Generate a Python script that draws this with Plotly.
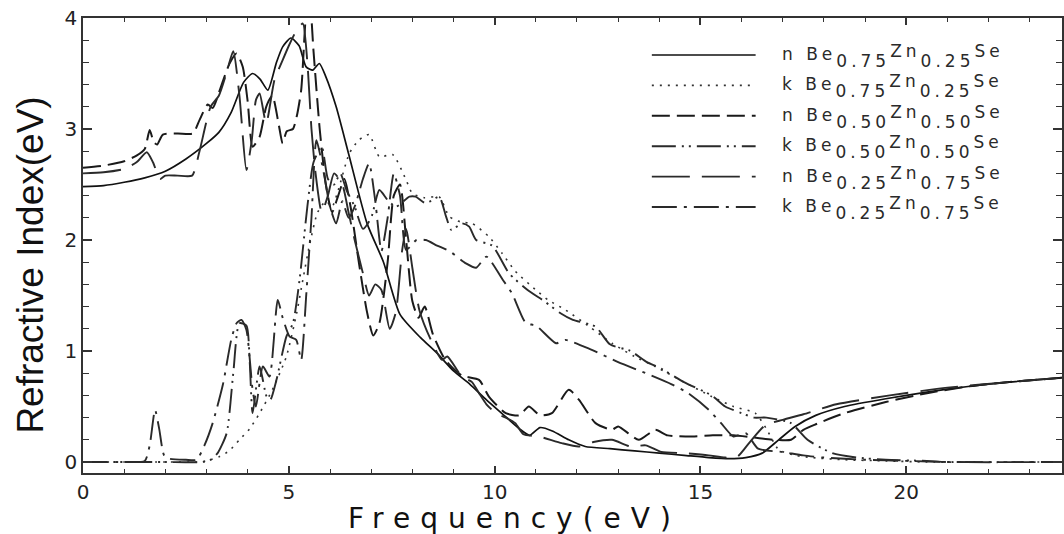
import plotly.graph_objects as go

# ---------------- data ----------------
x_n75 = [0, 0.5, 1.0, 1.5, 2.0, 2.5, 3.0, 3.3, 3.6, 3.9, 4.12, 4.3, 4.49, 4.7, 4.85, 5.05, 5.25, 5.42, 5.58, 5.74,
         5.9, 6.15, 6.45, 6.9, 7.3, 7.7, 8.2, 8.6, 9.0, 9.4, 9.8, 10.2, 10.6, 10.85, 11.1, 11.4, 11.8, 12.2, 12.8, 13.4,
         14.0, 14.6, 15.2, 15.7, 16.1, 16.5, 16.9, 17.3, 17.8, 18.5, 19.5, 20.5, 21.5, 22.5, 23.8]
y_n75 = [2.48, 2.49, 2.52, 2.56, 2.62, 2.73, 2.87, 2.97, 3.15, 3.42, 3.5, 3.45, 3.35, 3.6, 3.74, 3.82, 3.75, 3.56, 3.53, 3.59,
         3.47, 3.2, 2.78, 2.15, 1.8, 1.33, 1.12, 0.98, 0.82, 0.7, 0.56, 0.43, 0.3, 0.24, 0.31, 0.28, 0.2, 0.14, 0.12, 0.1,
         0.08, 0.06, 0.04, 0.03, 0.04, 0.08, 0.2, 0.32, 0.42, 0.5, 0.57, 0.63, 0.68, 0.72, 0.76]

x_k75 = [0, 1.0, 2.0, 2.8, 3.0, 3.32, 3.55, 3.8, 4.05, 4.29, 4.6, 4.94, 5.19, 5.34, 5.5, 5.7, 5.9, 6.05, 6.2, 6.47,
         6.7, 6.95, 7.2, 7.52, 7.85, 8.0, 8.3, 8.65, 8.9, 9.2, 9.45, 9.86, 10.18, 10.5, 11.0, 11.3, 11.72, 12.3, 12.85, 13.4,
         13.9, 14.6, 15.27, 15.8, 16.33, 16.6, 16.9, 17.3, 17.7, 18.5, 19.5, 20.5, 23.8]
y_k75 = [0, 0, 0, 0, 0.01, 0.05, 0.1, 0.2, 0.3, 0.44, 0.65, 0.95, 1.34, 1.64, 1.95, 2.25, 2.35, 2.3, 2.45, 2.78,
         2.9, 2.95, 2.75, 2.77, 2.54, 2.42, 2.38, 2.39, 2.21, 2.16, 2.15, 2.03, 1.88, 1.72, 1.55, 1.46, 1.37, 1.22, 1.07, 0.95,
         0.86, 0.72, 0.59, 0.5, 0.44, 0.3, 0.11, 0.06, 0.04, 0.02, 0.01, 0, 0]

x_n50 = [0, 0.5, 1.0, 1.3, 1.5, 1.62, 1.72, 1.8, 1.94, 2.3, 2.67, 2.83, 3.03, 3.15, 3.35, 3.56, 3.73, 3.88, 4.0, 4.12,
         4.29, 4.45, 4.6, 4.75, 4.85, 4.95, 5.1, 5.19, 5.3, 5.42, 5.5, 5.6, 5.75, 5.9, 6.05, 6.2, 6.35, 6.5, 6.7, 6.9,
         7.05, 7.2, 7.4, 7.55, 7.7, 7.85, 8.0, 8.15, 8.3, 8.5, 8.8, 9.2, 9.62, 9.86, 10.27, 10.6, 10.83, 11.1, 11.39, 11.8,
         12.05, 12.45, 12.85, 13.0, 13.5, 13.9, 14.2, 14.8, 15.3, 15.8, 16.3, 16.8, 17.2, 17.5, 17.8, 18.5, 19.5, 20.5, 21.5,
         22.5, 23.8]
y_n50 = [2.65, 2.67, 2.71, 2.76, 2.82, 2.99, 2.88, 2.86, 2.95, 2.96, 2.96, 3.08, 3.22, 3.19, 3.38, 3.59, 3.68, 3.56, 3.25, 2.84,
         2.93, 3.2, 3.3, 3.05, 2.87, 2.98, 3.0, 3.11, 3.35, 4.05, 4.2, 3.7, 3.0, 2.5, 2.25, 2.4, 2.55, 2.3, 1.8, 1.35,
         1.14, 1.25, 1.8, 2.4, 2.5, 2.0, 1.45, 1.3, 1.4, 1.15, 0.92, 0.78, 0.74, 0.59, 0.44, 0.42, 0.5, 0.42, 0.44, 0.65,
         0.56, 0.35, 0.29, 0.32, 0.2, 0.29, 0.24, 0.23, 0.24, 0.24, 0.22, 0.2, 0.2, 0.29, 0.34, 0.44, 0.54, 0.62, 0.68,
         0.72, 0.76]

x_k50 = [0, 1.0, 2.0, 2.9, 3.1, 3.27, 3.49, 3.65, 3.8, 3.97, 4.05, 4.12, 4.29, 4.46, 4.55, 4.7, 4.94, 5.1, 5.26, 5.45,
         5.6, 5.8, 5.95, 6.1, 6.25, 6.4, 6.6, 6.8, 7.0, 7.2, 7.4, 7.6, 7.93, 8.08, 8.33, 8.65, 8.82, 8.95, 9.2, 9.38,
         9.55, 9.94, 10.35, 10.8, 11.2, 11.6, 11.9, 12.45, 12.8, 13.3, 13.7, 14.0, 14.6, 15.27, 15.6, 16.0, 16.3, 16.6, 17.2, 17.6,
         18.2, 18.8, 19.5, 20.5, 21.0, 23.8]
y_k50 = [0, 0, 0, 0, 0.02, 0.08, 0.26, 0.8, 1.25, 1.23, 0.9, 0.44, 0.86, 0.59, 0.56, 0.74, 1.13, 1.25, 1.64, 2.3,
         2.7, 2.84, 2.55, 2.5, 2.6, 2.45, 2.3, 2.1, 2.2, 2.45, 2.36, 2.3, 2.39, 2.39, 2.33, 2.39, 2.21, 2.09, 2.15, 2.12,
         2.0, 1.95, 1.7, 1.55, 1.45, 1.34, 1.28, 1.22, 1.06, 1.0, 0.9, 0.85, 0.72, 0.6, 0.5, 0.44, 0.4, 0.4, 0.35, 0.2,
         0.08, 0.04, 0.02, 0.01, 0, 0]

x_n25 = [0, 0.5, 1.0, 1.3, 1.55, 1.7, 1.87, 2.0, 2.3, 2.65, 2.83, 3.1, 3.3, 3.49, 3.65, 3.8, 3.97, 4.1, 4.2, 4.29,
         4.45, 4.65, 4.85, 5.0, 5.19, 5.34, 5.45, 5.55, 5.65, 5.8, 5.95, 6.1, 6.3, 6.45, 6.6, 6.8, 6.95, 7.1, 7.25, 7.45,
         7.6, 7.75, 7.85, 8.0, 8.17, 8.45, 8.72, 8.85, 9.2, 9.45, 9.62, 9.8, 10.03, 10.27, 10.5, 10.7, 11.07, 11.63, 12.04, 12.4,
         12.85, 13.3, 13.67, 14.05, 14.6, 15.2, 15.6, 15.9, 16.2, 16.57, 17.0, 17.5, 18.3, 19.6, 21.0, 22.5, 23.8]
y_n25 = [2.6, 2.61, 2.64, 2.7, 2.79, 2.7, 2.55, 2.58, 2.58, 2.58, 2.8, 3.2, 3.3, 3.51, 3.7, 3.3, 2.63, 2.9, 3.26, 3.32,
         3.05, 3.44, 3.62, 3.75, 3.89, 3.95, 3.6, 3.0, 2.6, 2.25, 2.4, 2.6, 2.5, 2.25, 2.0, 1.7, 1.5, 1.6, 1.55, 1.2,
         1.35, 1.9, 2.1, 1.75, 1.37, 1.1, 0.92, 0.95, 0.77, 0.72, 0.62, 0.52, 0.44, 0.4, 0.35, 0.25, 0.23, 0.17, 0.14, 0.18,
         0.2, 0.14, 0.15, 0.09, 0.08, 0.06, 0.04, 0.05, 0.18, 0.33, 0.38, 0.43, 0.52, 0.6, 0.67, 0.72, 0.76]

x_k25 = [0, 1.0, 1.5, 1.62, 1.75, 1.85, 1.97, 2.1, 2.5, 2.76, 2.95, 3.15, 3.4, 3.6, 3.73, 3.85, 3.97, 4.12, 4.2, 4.37,
         4.53, 4.73, 4.85, 5.02, 5.18, 5.3, 5.42, 5.55, 5.67, 5.85, 6.0, 6.15, 6.3, 6.45, 6.6, 6.8, 6.95, 7.1, 7.25, 7.4,
         7.55, 7.7, 7.85, 8.1, 8.33, 8.6, 8.9, 9.3, 9.55, 9.8, 10.2, 10.42, 10.76, 11.0, 11.49, 11.72, 12.36, 13.0, 13.67, 14.3,
         14.7, 15.2, 15.5, 15.8, 16.1, 16.4, 17.0, 17.5, 18.0, 19.0, 20.0, 21.0, 23.8]
y_k25 = [0, 0, 0.01, 0.15, 0.47, 0.3, 0.06, 0.03, 0.02, 0.02, 0.15, 0.35, 0.7, 1.1, 1.25, 1.28, 1.19, 0.65, 0.5, 0.86,
         0.77, 1.46, 1.3, 1.13, 1.1, 0.92, 1.49, 2.2, 2.9, 2.6, 2.3, 2.15, 2.35, 2.2, 2.3, 2.55, 2.69, 2.35, 1.9, 2.2,
         2.6, 2.4, 1.91, 2.0, 2.0, 1.95, 1.9, 1.79, 1.75, 1.85, 1.64, 1.52, 1.25, 1.23, 1.07, 1.1, 1.01, 0.9, 0.8, 0.7,
         0.62, 0.47, 0.35, 0.23, 0.26, 0.12, 0.09, 0.06, 0.04, 0.02, 0.01, 0, 0]

kinds = ["n", "k", "n", "k", "n", "k"]
be_frac = ["0.75", "0.75", "0.50", "0.50", "0.25", "0.25"]
zn_frac = ["0.25", "0.25", "0.50", "0.50", "0.75", "0.75"]

x_title = "Frequency(eV)"
y_title = "Refractive Index(eV)"

# ---------------- styles ----------------
series = [(x_n75, y_n75), (x_k75, y_k75), (x_n50, y_n50), (x_k50, y_k50), (x_n25, y_n25), (x_k25, y_k25)]
dashes = ["solid", "2px,6px", "18px,7px", "24px,6px,2px,5px,2px,6px", "38px,12px", "25px,7px,3px,7px"]
colors = ["#111111", "#333333", "#1a1a1a", "#2a2a2a", "#2a2a2a", "#2a2a2a"]
widths = [1.7, 1.6, 2.0, 1.9, 1.9, 1.9]

fig = go.Figure()
for (xs, ys), d, c, w, kd, b in zip(series, dashes, colors, widths, kinds, be_frac):
    fig.add_trace(go.Scatter(x=xs, y=ys, mode="lines", showlegend=False,
                             line=dict(color=c, width=w, dash=d, shape="spline", smoothing=0.6),
                             name=f"{kd} {b}"))

W, H = 1064, 534
ML, MR, MT, MB = 83, 0, 18, 61
PW, PH = W - ML - MR, H - MT - MB


def px_to_paper_x(px):
    return (px - ML) / PW


def px_to_paper_y(py):
    return (H - MB - py) / PH


# manual legend (long line samples as in the reference)
shapes = []
annotations = []
for i, (kd, b, z) in enumerate(zip(kinds, be_frac, zn_frac)):
    ly = 55 + 30.4 * i
    shapes.append(dict(type="line", xref="paper", yref="paper",
                       x0=px_to_paper_x(653), x1=px_to_paper_x(757),
                       y0=px_to_paper_y(ly), y1=px_to_paper_y(ly),
                       line=dict(color=colors[i], width=widths[i], dash=dashes[i])))
    txt = (f'<span style="letter-spacing:4px">{kd} Be'
           f'<span style="baseline-shift:-7px">{b}</span>'
           f'<span style="baseline-shift:3px">Zn</span>'
           f'<span style="baseline-shift:-7px">{z}</span>'
           f'<span style="baseline-shift:3px">Se</span></span>')
    annotations.append(dict(x=px_to_paper_x(781), y=px_to_paper_y(ly + 1), xref="paper", yref="paper",
                            xanchor="left", yanchor="middle", showarrow=False, text=txt,
                            font=dict(family="DejaVu Sans", size=17, color="#2a2a2a")))

annotations.append(dict(x=px_to_paper_x(515), y=px_to_paper_y(518), xref="paper", yref="paper",
                        xanchor="center", yanchor="middle", showarrow=False,
                        text=f'<span style="letter-spacing:10px">{x_title}</span>',
                        font=dict(family="DejaVu Sans", size=28, color="#111111")))
annotations.append(dict(x=px_to_paper_x(29.5), y=px_to_paper_y(265), xref="paper", yref="paper",
                        xanchor="center", yanchor="middle", showarrow=False, textangle=-90,
                        text=y_title,
                        font=dict(family="Liberation Sans, Arial", size=37, color="#111111")))

axis_common = dict(showgrid=False, zeroline=False, showline=True, linecolor="#333333", linewidth=1.5,
                   mirror="ticks", ticks="inside", tickcolor="#333333", tickwidth=1.5,
                   tickfont=dict(family="DejaVu Sans", size=20, color="#222222"))

fig.update_layout(
    width=W, height=H, margin=dict(l=ML, r=MR, t=MT, b=MB),
    paper_bgcolor="white", plot_bgcolor="white",
    xaxis=dict(range=[0, PW / 41.25], tick0=0, dtick=5, ticklen=7,
               minor=dict(dtick=1, ticks="inside", ticklen=4, tickcolor="#333333", tickwidth=1.3),
               **axis_common),
    yaxis=dict(range=[-(473 - 462) / 111, 4], tick0=0, dtick=1, ticklen=9,
               minor=dict(dtick=0.2, ticks="inside", ticklen=6, tickcolor="#333333", tickwidth=1.3),
               **axis_common),
    shapes=shapes, annotations=annotations,
)

fig.write_html("out.html")
